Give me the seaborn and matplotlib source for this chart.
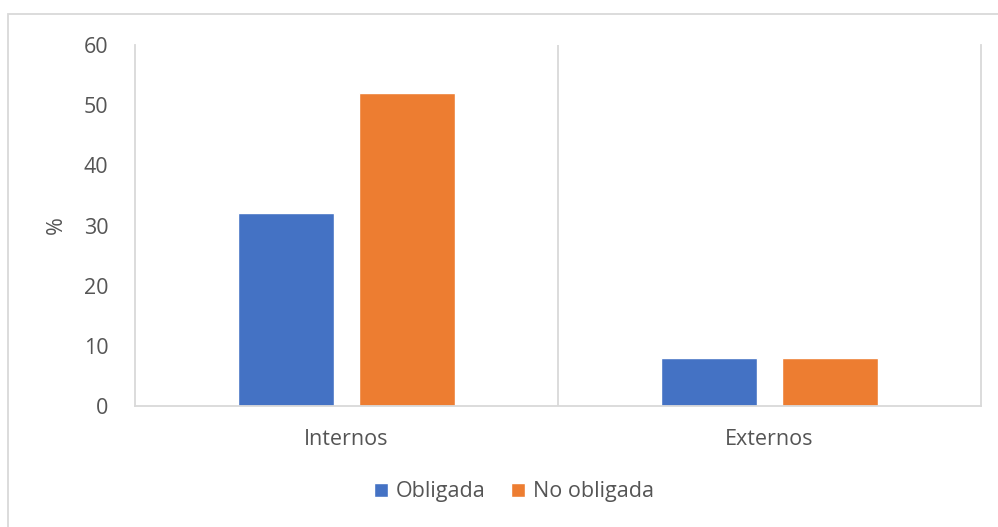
import matplotlib
matplotlib.use("Agg")
import matplotlib.pyplot as plt
import seaborn as sns
import pandas as pd
from matplotlib.patches import Rectangle

categories = ["Internos", "Externos"]
series_names = ["Obligada", "No obligada"]
obligada = [32, 8]
no_obligada = [52, 8]
y_ticks = [0, 10, 20, 30, 40, 50, 60]

df = pd.DataFrame({
    "cat": categories * 2,
    "serie": [series_names[0]] * 2 + [series_names[1]] * 2,
    "val": obligada + no_obligada,
})

sns.set_style("white")
plt.rcParams["font.family"] = ["Open Sans", "DejaVu Sans"]

FS = 15.5
TXT = "#555555"

fig = plt.figure(figsize=(9.98, 5.27), dpi=100)
ax = fig.add_axes([135 / 998, 1 - 406 / 527, (981 - 135) / 998, (406 - 45) / 527])

sns.barplot(data=df, x="cat", y="val", hue="serie", order=categories,
            hue_order=series_names, palette=["#4472C4", "#ED7D31"],
            width=0.571, gap=0.21, ax=ax, saturation=1, legend=True)

ax.set_xlim(-0.5, 1.5)
ax.set_ylim(0, 60)
ax.set_yticks(y_ticks)
ax.set_yticklabels([str(t) for t in y_ticks])
grid_c = "#d9d9d9"
ax.axvline(0.5, color=grid_c, lw=1.3, zorder=0)
ax.spines["top"].set_visible(False)
for s in ["left", "right", "bottom"]:
    ax.spines[s].set_color(grid_c)
    ax.spines[s].set_linewidth(1.3)
ax.tick_params(axis="both", length=0, labelsize=FS, colors=TXT)
ax.tick_params(axis="y", pad=19)
ax.tick_params(axis="x", pad=16.5)
ax.set_xlabel("")
ax.set_ylabel("%", fontsize=FS, color=TXT, labelpad=12)

handles, labels = ax.get_legend_handles_labels()
ax.get_legend().remove()
fig.legend(handles, labels, loc="center", bbox_to_anchor=(514 / 998, 1 - 492 / 527),
           ncol=2, frameon=False, fontsize=FS, handlelength=0.65, handleheight=0.65,
           handletextpad=0.35, columnspacing=1.2, labelcolor=TXT)

fig.patches.append(Rectangle((8 / 998, -0.1), 1.2, 1 - 14 / 527 + 0.1,
                             transform=fig.transFigure, fill=False,
                             edgecolor="#d9d9d9", lw=1.3, zorder=-1))

fig.savefig("out.png", dpi=100)
